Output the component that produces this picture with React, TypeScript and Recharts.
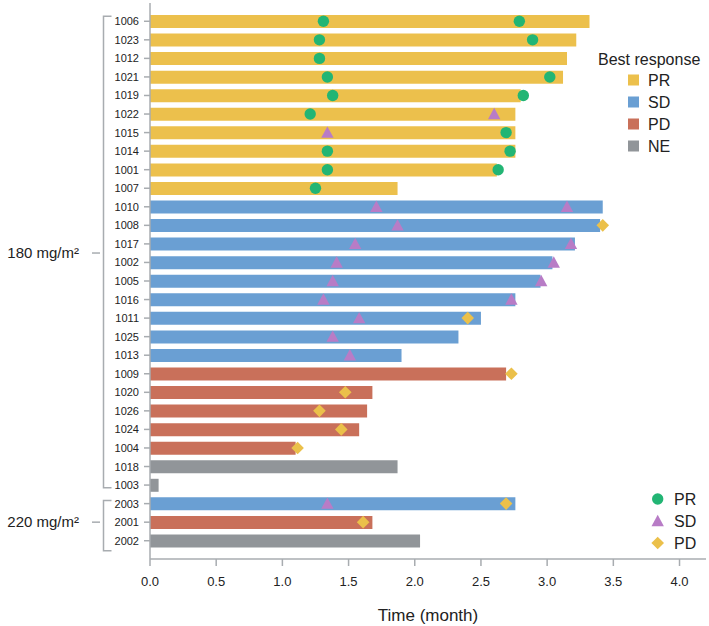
import React from 'react';
import { ComposedChart, Bar, Scatter, XAxis, YAxis, Cell, Legend, Label } from 'recharts';

// ---------- data ----------
const ids = ['1006','1023','1012','1021','1019','1022','1015','1014','1001','1007',
  '1010','1008','1017','1002','1005','1016','1011','1025','1013',
  '1009','1020','1026','1024','1004','1018','1003','2003','2001','2002'];
const durations = [3.32,3.22,3.15,3.12,2.80,2.76,2.76,2.76,2.62,1.87,
  3.42,3.40,3.21,3.04,2.95,2.76,2.50,2.33,1.90,
  2.69,1.68,1.64,1.58,1.10,1.87,0.065,2.76,1.68,2.04];
const bestResponse = ['PR','PR','PR','PR','PR','PR','PR','PR','PR','PR',
  'SD','SD','SD','SD','SD','SD','SD','SD','SD',
  'PD','PD','PD','PD','PD','NE','NE','SD','PD','NE'];

const prPoints = [
  { id: '1006', t: 1.31 }, { id: '1006', t: 2.79 },
  { id: '1023', t: 1.28 }, { id: '1023', t: 2.89 },
  { id: '1012', t: 1.28 },
  { id: '1021', t: 1.34 }, { id: '1021', t: 3.02 },
  { id: '1019', t: 1.38 }, { id: '1019', t: 2.82 },
  { id: '1022', t: 1.21 },
  { id: '1015', t: 2.69 },
  { id: '1014', t: 1.34 }, { id: '1014', t: 2.72 },
  { id: '1001', t: 1.34 }, { id: '1001', t: 2.63 },
  { id: '1007', t: 1.25 },
];
const sdPoints = [
  { id: '1022', t: 2.60 },
  { id: '1015', t: 1.34 },
  { id: '1010', t: 1.71 }, { id: '1010', t: 3.15 },
  { id: '1008', t: 1.87 },
  { id: '1017', t: 1.55 }, { id: '1017', t: 3.18 },
  { id: '1002', t: 1.41 }, { id: '1002', t: 3.05 },
  { id: '1005', t: 1.38 }, { id: '1005', t: 2.955 },
  { id: '1016', t: 1.31 }, { id: '1016', t: 2.73 },
  { id: '1011', t: 1.58 },
  { id: '1025', t: 1.38 },
  { id: '1013', t: 1.51 },
  { id: '2003', t: 1.34 },
];
const pdPoints = [
  { id: '1008', t: 3.42 },
  { id: '1011', t: 2.40 },
  { id: '1009', t: 2.73 },
  { id: '1020', t: 1.475 },
  { id: '1026', t: 1.28 },
  { id: '1024', t: 1.445 },
  { id: '1004', t: 1.115 },
  { id: '2003', t: 2.69 },
  { id: '2001', t: 1.61 },
];

const groups = [
  { label: '180 mg/m²', first: '1006', last: '1003', padTop: 5, padBottom: 3 },
  { label: '220 mg/m²', first: '2003', last: '2002', padTop: 3, padBottom: 10 },
];

const xTicks = [0, 0.5, 1.0, 1.5, 2.0, 2.5, 3.0, 3.5, 4.0];
const responseLabels = ['PR', 'SD', 'PD', 'NE'];

// ---------- styles ----------
const barColors: Record<string, string> = {
  PR: '#ECC04C',
  SD: '#6A9FD3',
  PD: '#C9705A',
  NE: '#919599',
};
const CIRCLE = '#22B574';
const TRI = '#B87CC6';
const DIA = '#EBC04A';
const AXIS = '#A8ACB0';
const TEXT = '#222222';
const FONT = '"Liberation Sans", Arial, Helvetica, sans-serif';
const ROW_STEP = 18.54;

const rows = ids.map((id, i) => ({ id, dur: durations[i], best: bestResponse[i] }));

const ok = (v: any) => typeof v === 'number' && isFinite(v);

const CircleShape = (p: any) =>
  ok(p.cx) && ok(p.cy) ? <circle cx={p.cx} cy={p.cy} r={5.7} fill={CIRCLE} /> : <g />;
const TriShape = (p: any) =>
  ok(p.cx) && ok(p.cy) ? (
    <path d={`M${p.cx},${p.cy - 6.2}L${p.cx + 6.2},${p.cy + 5.2}L${p.cx - 6.2},${p.cy + 5.2}Z`} fill={TRI} />
  ) : <g />;
const DiaShape = (p: any) =>
  ok(p.cx) && ok(p.cy) ? (
    <path d={`M${p.cx},${p.cy - 6.3}L${p.cx + 6.3},${p.cy}L${p.cx},${p.cy + 6.3}L${p.cx - 6.3},${p.cy}Z`} fill={DIA} />
  ) : <g />;

const YTick = (props: any) => {
  const { x, y, payload, index } = props;
  const extras: React.ReactNode[] = [];
  groups.forEach((g, gi) => {
    const fi = ids.indexOf(g.first);
    const li = ids.indexOf(g.last);
    if (index === fi) {
      const top = y - g.padTop;
      const bottom = y + (li - fi) * ROW_STEP + g.padBottom;
      const mid = y + ((li - fi) * ROW_STEP) / 2;
      const bx = 103.5;
      extras.push(
        <g key={gi}>
          <path d={`M${bx + 8},${top}H${bx}V${bottom}H${bx + 8}`} fill="none" stroke={AXIS} strokeWidth={1.5} />
          <line x1={92} x2={100} y1={mid} y2={mid} stroke={AXIS} strokeWidth={1.5} />
          <text x={79} y={mid} dy={5} textAnchor="end" fontSize={15} fill={TEXT} fontFamily={FONT}>{g.label}</text>
        </g>
      );
    }
  });
  return (
    <g>
      <text x={x} y={y} dy={4} textAnchor="end" fontSize={11} fill={TEXT} fontFamily={FONT}>{payload.value}</text>
      {extras}
    </g>
  );
};

const LegendBlocks = () => {
  const lx = 628;
  const ys = [80, 102, 124, 146];
  const my = [499, 521, 543];
  const mx = 657.7;
  return (
    <svg width={709} height={626} style={{ position: 'absolute', left: 0, top: 0 }}>
      <text x={598} y={64.5} fontSize={16} fill={TEXT} fontFamily={FONT}>Best response</text>
      {responseLabels.map((r, i) => (
        <g key={r}>
          <rect x={lx} y={ys[i] - 5.5} width={11} height={11} fill={barColors[r]} />
          <text x={648} y={ys[i] + 6} fontSize={16} fill={TEXT} fontFamily={FONT}>{r}</text>
        </g>
      ))}
      <CircleShape cx={mx} cy={my[0]} />
      <TriShape cx={mx} cy={my[1]} />
      <DiaShape cx={mx} cy={my[2]} />
      {['PR', 'SD', 'PD'].map((r, i) => (
        <text key={r} x={674} y={my[i] + 6} fontSize={16} fill={TEXT} fontFamily={FONT}>{r}</text>
      ))}
    </svg>
  );
};

export default function App() {
  return (
    <div style={{ position: 'absolute', left: 0, top: 0, width: 709, height: 626, background: '#fff' }}>
      <ComposedChart
        width={709}
        height={626}
        layout="vertical"
        data={rows}
        margin={{ top: 3, right: 3, left: 0, bottom: 0 }}
        style={{ fontFamily: FONT }}
      >
        <XAxis
          type="number"
          domain={[0, 4.2]}
          ticks={xTicks}
          tickFormatter={(v: number) => v.toFixed(1)}
          height={67}
          tickSize={7}
          tickMargin={11}
          tick={{ fontSize: 13, fill: TEXT, fontFamily: FONT }}
          axisLine={{ stroke: AXIS, strokeWidth: 1.5 }}
          tickLine={{ stroke: AXIS, strokeWidth: 1.5 }}
          allowDataOverflow
        >
          <Label value="Time (month)" position="insideBottom" offset={5} fontSize={17} fill={TEXT} fontFamily={FONT} />
        </XAxis>
        <YAxis
          type="category"
          dataKey="id"
          width={150}
          interval={0}
          allowDuplicatedCategory={false}
          padding={{ top: 9, bottom: 9 }}
          tickSize={6}
          tickMargin={5}
          tick={<YTick />}
          axisLine={{ stroke: AXIS, strokeWidth: 1.5 }}
          tickLine={{ stroke: AXIS, strokeWidth: 1.5 }}
        />
        <Bar dataKey="dur" barSize={13} isAnimationActive={false}>
          {rows.map((r) => (
            <Cell key={r.id} fill={barColors[r.best]} />
          ))}
        </Bar>
        <Scatter data={prPoints} dataKey="t" shape={CircleShape} isAnimationActive={false} />
        <Scatter data={sdPoints} dataKey="t" shape={TriShape} isAnimationActive={false} />
        <Scatter data={pdPoints} dataKey="t" shape={DiaShape} isAnimationActive={false} />
        <Legend
          layout="vertical"
          align="center"
          verticalAlign="middle"
          wrapperStyle={{ position: 'absolute', left: 0, top: 0, width: 709, height: 626, pointerEvents: 'none' }}
          content={() => <LegendBlocks />}
        />
      </ComposedChart>
    </div>
  );
}
